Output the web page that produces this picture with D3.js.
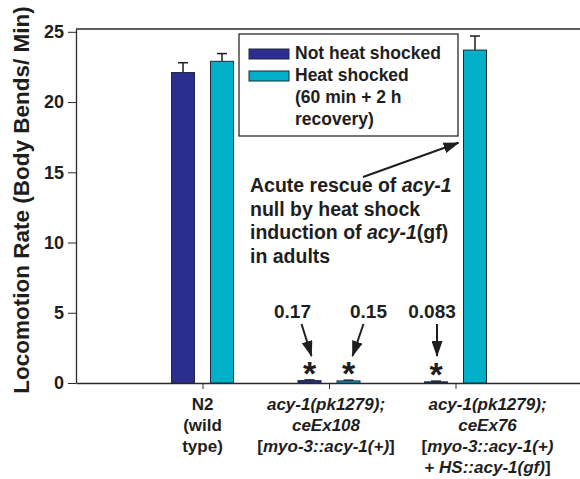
<!DOCTYPE html>
<html>
<head>
<meta charset="utf-8">
<script src="https://cdn.jsdelivr.net/npm/d3@7"></script>
<style>
  body { margin: 0; background: #fff; }
  svg text { font-family: "Liberation Sans", Arial, sans-serif; font-weight: bold; fill: #1e1e1e; }
</style>
</head>
<body>
<div id="chart"></div>
<script>
// data
const groups = ["N2", "ceEx108", "ceEx76"];
const series = ["Not heat shocked", "Heat shocked"];
const notShocked = [22.1, 0.17, 0.083];
const notShockedErr = [0.7, 0.05, 0.05];
const heatShocked = [22.9, 0.15, 23.7];
const heatShockedErr = [0.55, 0.05, 1.0];
const yTicks = [0, 5, 10, 15, 20, 25];
const legendLines = [["Not heat shocked"], ["Heat shocked", "(60 min + 2 h", "recovery)"]];
// category labels: each line is a list of [text, italic]
const groupLabels = [
  [[["N2", false]], [["(wild", false]], [["type)", false]]],
  [[["acy-1(pk1279);", true]], [["ceEx108", true]], [["[", false], ["myo-3::acy-1(+)", true], ["]", false]]],
  [[["acy-1(pk1279);", true]], [["ceEx76", true]], [["[", false], ["myo-3::acy-1(+)", true]],
   [["+ ", false], ["HS::acy-1(gf)", true], ["]", false]]]
];
const calloutText = ["0.17", "0.15", "0.083"];
const rescueLines = [
  [["Acute rescue of ", false], ["acy-1", true]],
  [["null by heat shock", false]],
  [["induction of ", false], ["acy-1", true], ["(gf)", false]],
  [["in adults", false]]
];

const colors = { "Not heat shocked": "#2b2e8f", "Heat shocked": "#00afc8" };

const width = 580, height = 479;
const svg = d3.select("#chart").append("svg")
    .attr("width", width)
    .attr("height", height);

// scales
const x = d3.scaleLinear().domain([0, 4]).range([76, 582]);
const xSub = d3.scaleBand().domain(series).range([-31, 31]).paddingInner(0.41);
const y = d3.scaleLinear().domain([0, 25.2]).range([383, 29]);

// top frame line
svg.append("line")
    .attr("x1", x(0)).attr("x2", width)
    .attr("y1", y(25.2)).attr("y2", y(25.2))
    .attr("stroke", "#2a2a2a").attr("stroke-width", 1.3);

// Y axis
const yAxis = svg.append("g")
    .attr("transform", `translate(${x(0)},0)`)
    .call(d3.axisLeft(y).tickValues(yTicks).tickSize(8).tickPadding(4).tickSizeOuter(0));
yAxis.select(".domain").attr("stroke", "#2a2a2a").attr("stroke-width", 1.3);
yAxis.selectAll(".tick line").attr("stroke", "#2a2a2a");
yAxis.selectAll("text").style("font-size", "18px").attr("fill", "#1e1e1e");

// X axis
const xAxis = svg.append("g")
    .attr("transform", `translate(0,${y(0)})`)
    .call(d3.axisBottom(x).tickValues([1, 2, 3]).tickFormat("").tickSize(6).tickSizeOuter(0));
xAxis.select(".domain").attr("stroke", "#2a2a2a").attr("stroke-width", 1.3);
xAxis.selectAll(".tick line").attr("stroke", "#2a2a2a");

// y label
svg.append("text")
    .attr("transform", `translate(29,${200}) rotate(-90)`)
    .attr("text-anchor", "middle")
    .style("font-size", "22.5px")
    .text("Locomotion Rate (Body Bends/ Min)");

// bars
const barData = [];
groups.forEach((g, i) => {
  barData.push({ g: i, s: series[0], v: notShocked[i], e: notShockedErr[i] });
  barData.push({ g: i, s: series[1], v: heatShocked[i], e: heatShockedErr[i] });
});
const bw = xSub.bandwidth();
const bars = svg.append("g").selectAll("g").data(barData).enter().append("g");
bars.append("line")
    .attr("x1", d => x(d.g + 1) + xSub(d.s) + bw / 2)
    .attr("x2", d => x(d.g + 1) + xSub(d.s) + bw / 2)
    .attr("y1", d => y(d.v)).attr("y2", d => y(d.v + d.e))
    .attr("stroke", "#1e1e1e").attr("stroke-width", 1.5);
bars.append("line")
    .attr("x1", d => x(d.g + 1) + xSub(d.s) + bw / 2 - 5)
    .attr("x2", d => x(d.g + 1) + xSub(d.s) + bw / 2 + 5)
    .attr("y1", d => y(d.v + d.e)).attr("y2", d => y(d.v + d.e))
    .attr("stroke", "#1e1e1e").attr("stroke-width", 1.5);
bars.append("rect")
    .attr("x", d => x(d.g + 1) + xSub(d.s))
    .attr("y", d => y(d.v))
    .attr("width", bw)
    .attr("height", d => y(0) - y(d.v))
    .attr("fill", d => colors[d.s])
    .attr("stroke", "#1e2a3a").attr("stroke-width", 1);

// category labels
const labelShift = [0, -3, 32];
groupLabels.forEach((lines, i) => {
  const t = svg.append("text")
      .attr("text-anchor", "middle")
      .style("font-size", "17px");
  lines.forEach((line, j) => {
    line.forEach((seg, k) => {
      const ts = t.append("tspan").text(seg[0])
          .style("font-style", seg[1] ? "italic" : "normal");
      if (k === 0) ts.attr("x", x(i + 1) + labelShift[i]).attr("y", 410 + j * 21);
    });
  });
});

// arrow marker
svg.append("defs").append("marker")
    .attr("id", "arrow")
    .attr("viewBox", "0 0 16 11")
    .attr("refX", 15).attr("refY", 5.5)
    .attr("markerWidth", 8).attr("markerHeight", 5.5)
    .attr("markerUnits", "strokeWidth")
    .attr("orient", "auto")
  .append("path")
    .attr("d", "M0,0 L16,5.5 L0,11 Z")
    .attr("fill", "#1e1e1e");

// asterisks and value callouts on the near-zero bars
const smallBars = [
  barData.find(d => d.g === 1 && d.s === series[0]),
  barData.find(d => d.g === 1 && d.s === series[1]),
  barData.find(d => d.g === 2 && d.s === series[0])
];
const calloutLayout = [
  { dx: -17, ax: -8, adx: 2 },
  { dx: 20, ax: 15, adx: 4 },
  { dx: -4, ax: 1, adx: 1 }
];
smallBars.forEach((d, i) => {
  const cx = x(d.g + 1) + xSub(d.s) + bw / 2;
  const L = calloutLayout[i];
  svg.append("text")
      .attr("x", cx).attr("y", y(d.v) + 4)
      .attr("text-anchor", "middle")
      .style("font-size", "34px")
      .text("*");
  svg.append("text")
      .attr("x", cx + L.dx).attr("y", 318)
      .attr("text-anchor", "middle")
      .style("font-size", "19px")
      .text(calloutText[i]);
  svg.append("line")
      .attr("x1", cx + L.ax).attr("y1", 324)
      .attr("x2", cx + L.adx).attr("y2", 356)
      .attr("stroke", "#1e1e1e").attr("stroke-width", 2)
      .attr("marker-end", "url(#arrow)");
});

// legend
const legend = svg.append("g");
legend.append("rect")
    .attr("x", 239).attr("y", 34).attr("width", 219).attr("height", 102)
    .attr("fill", "#fff").attr("stroke", "#2a2a2a").attr("stroke-width", 1.3);
let row = 0;
legendLines.forEach((lines, i) => {
  const base = 59 + row * 22;
  legend.append("rect")
      .attr("x", 249).attr("y", base - 10).attr("width", 40).attr("height", 10)
      .attr("fill", colors[series[i]]).attr("stroke", "#1e2a3a").attr("stroke-width", 1);
  lines.forEach((l, j) => {
    legend.append("text")
        .attr("x", 295).attr("y", base + j * 22)
        .style("font-size", "17.5px")
        .text(l);
  });
  row += lines.length;
});

// rescue annotation
const rescue = svg.append("text").style("font-size", "19.5px");
rescueLines.forEach((line, j) => {
  line.forEach((seg, k) => {
    const ts = rescue.append("tspan").text(seg[0])
        .style("font-style", seg[1] ? "italic" : "normal");
    if (k === 0) ts.attr("x", 250).attr("y", 192 + j * 23.5);
  });
});
const tall = barData.find(d => d.g === 2 && d.s === series[1]);
svg.append("line")
    .attr("x1", 363).attr("y1", 177)
    .attr("x2", x(tall.g + 1) + xSub(tall.s) - 5).attr("y2", y(17.1))
    .attr("stroke", "#1e1e1e").attr("stroke-width", 2)
    .attr("marker-end", "url(#arrow)");
</script>
</body>
</html>
